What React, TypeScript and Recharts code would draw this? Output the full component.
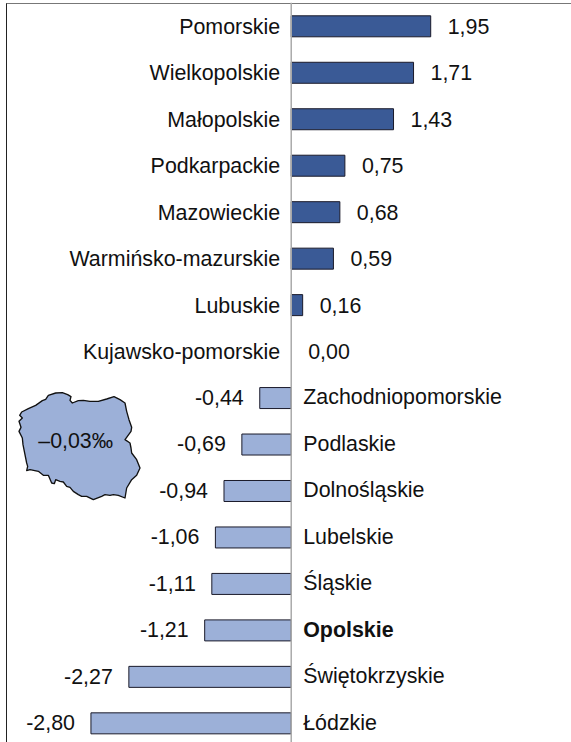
import { BarChart, Bar, Cell, XAxis, YAxis, LabelList, ReferenceLine } from 'recharts';

const regions = [
  'Pomorskie', 'Wielkopolskie', 'Małopolskie', 'Podkarpackie', 'Mazowieckie', 'Warmińsko-mazurskie',
  'Lubuskie', 'Kujawsko-pomorskie', 'Zachodniopomorskie', 'Podlaskie', 'Dolnośląskie', 'Lubelskie',
  'Śląskie', 'Opolskie', 'Świętokrzyskie', 'Łódzkie',
];
const rates = [1.95, 1.71, 1.43, 0.75, 0.68, 0.59, 0.16, 0, -0.44, -0.69, -0.94, -1.06, -1.11, -1.21, -2.27, -2.8];
const highlighted = 'Opolskie';
const national = '–0,03‰';

const data = regions.map((name, i) => ({ name, value: rates[i] }));
const font = '"Liberation Sans", Arial, sans-serif';
const fontSize = 21.4;

const chartWidth = 571;
const axisWidth = 2;
const margin = { top: 2.8, right: 0.8, bottom: 0.7, left: 3.1 };
const domain = [-4, 3.9];
const plotLeft = margin.left + axisWidth;
const zeroX = plotLeft + ((0 - domain[0]) * (chartWidth - plotLeft - margin.right)) / (domain[1] - domain[0]);

// outline of the country (units are 1/3 px)
const outline =
  'M14,82 L20,72 L40,62 L62,52 L82,38 L92,34 L100,22 L122,15 L142,14 L158,20 L168,26 L165,37 L172,45 L190,38 ' +
  'L205,37 L225,40 L250,40 L275,33 L297,26 L315,35 L330,45 L335,70 L342,95 L350,118 L348,130 L335,148 L330,155 ' +
  'L345,165 L348,180 L350,195 L365,215 L375,240 L365,262 L350,275 L335,300 L330,330 L310,322 L295,320 L285,322 ' +
  'L270,320 L260,325 L235,335 L215,325 L200,325 L190,320 L175,310 L165,298 L155,295 L145,282 L135,280 L122,275 ' +
  'L118,287 L110,285 L100,262 L85,262 L70,250 L45,245 L35,248 L38,235 L35,225 L28,190 L24,170 L22,150 L12,130 ' +
  'L18,118 L12,100 L22,90 Z';

const fmt = (v: number) => v.toFixed(2).replace('.', ',');

const NameTick = ({ y, payload }: any) => {
  const name = payload.value;
  const value = rates[regions.indexOf(name)];
  const negative = value < 0;
  const textY = y + (negative ? 1 : 2);
  return (
    <g>
      <text
        x={negative ? zeroX + 12 : zeroX - 11}
        y={textY}
        textAnchor={negative ? 'start' : 'end'}
        dominantBaseline="middle"
        fontFamily={font}
        fontSize={fontSize}
        fontWeight={name === highlighted ? 'bold' : 'normal'}
        fill="#111"
      >
        {name}
      </text>
      {/* a zero-width bar gets no label from LabelList */}
      {value === 0 && (
        <text x={zeroX + 17} y={textY} dominantBaseline="middle" fontFamily={font} fontSize={fontSize} fill="#111">
          {fmt(value)}
        </text>
      )}
    </g>
  );
};

const ValueLabel = ({ x, y, width, height, value }: any) => {
  const negative = value < 0;
  const end = x + width;
  return (
    <text
      x={negative ? end - 16 : end + 17}
      y={y + height / 2 + (negative ? 1 : 2)}
      textAnchor={negative ? 'end' : 'start'}
      dominantBaseline="middle"
      fontFamily={font}
      fontSize={fontSize}
      fill="#111"
    >
      {fmt(value)}
    </text>
  );
};

export default function App() {
  return (
    <div style={{ position: 'absolute', left: 0, top: 0, width: 571, height: 742, overflow: 'hidden', background: '#fff' }}>
      <div style={{ position: 'absolute', left: 6, top: 3, width: 565, height: 739, borderLeft: '1.5px solid #222', borderTop: '1.5px solid #777', boxSizing: 'border-box' }} />
      <BarChart
        width={chartWidth}
        height={747}
        layout="vertical"
        data={data}
        barSize={21}
        margin={margin}
        style={{ position: 'absolute', left: 0, top: 0 }}
      >
        <XAxis type="number" domain={domain} hide />
        <YAxis type="category" dataKey="name" width={axisWidth} interval={0} axisLine={false} tickLine={false} tick={<NameTick />} />
        <ReferenceLine x={0} stroke="#aaa" strokeWidth={1.5} />
        <Bar dataKey="value" isAnimationActive={false} stroke="#1a1a2a" strokeWidth={1}>
          {data.map((d) => (
            <Cell key={d.name} fill={d.value < 0 ? '#9cb0d8' : '#3a5a96'} />
          ))}
          <LabelList dataKey="value" content={<ValueLabel />} />
        </Bar>
      </BarChart>
      <svg width={130} height={116} viewBox="0 0 390 348" style={{ position: 'absolute', left: 15, top: 388 }}>
        <path d={outline} fill="#9cb0d8" stroke="#111" strokeWidth={4} strokeLinejoin="round" />
        <text x={182} y={162} textAnchor="middle" dominantBaseline="middle" fontFamily={font} fontSize={64} fill="#111">
          {national}
        </text>
      </svg>
    </div>
  );
}
